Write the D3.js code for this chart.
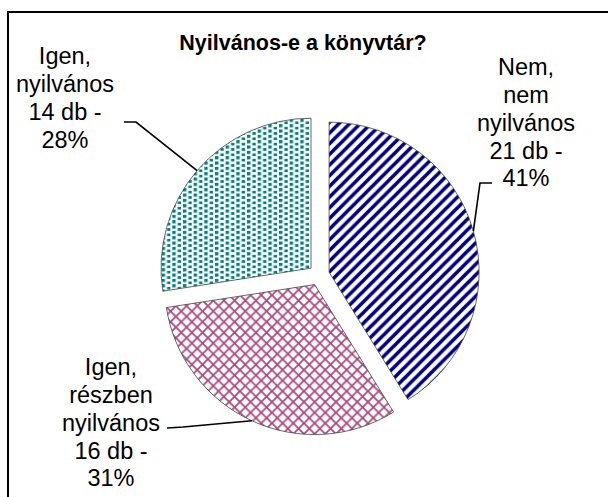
<!DOCTYPE html>
<html>
<head>
<meta charset="utf-8">
<script src="https://cdn.jsdelivr.net/npm/d3@7"></script>
<style>
  body { margin: 0; background: #fff; }
  text { font-family: "Liberation Sans", Arial, sans-serif; fill: #000; }
</style>
</head>
<body>
<div id="chart"></div>
<script>
(function(){
// data
const categories = ['Nem, nem nyilvános', 'Igen, részben nyilvános', 'Igen, nyilvános']
const counts = [21, 16, 14]
const percents = [41, 31, 28]
const title = 'Nyilvános-e a könyvtár?'

const width = 608, height = 497
const cx = 319, cy = 275, radius = 150, explode = 10.5

// label boxes: center x, first line y, leader start / elbow
const labelPos = [
  { x: 526, y: 67, start: [492, 183], elbow: [480, 183] },
  { x: 111, y: 367, start: [167, 428], elbow: [183, 427] },
  { x: 65, y: 56, start: [124, 122], elbow: [136, 122] }
]
const lineH = 27.8

let svg = d3.select('#chart')
  .append('svg')
  .attr('width', width)
  .attr('height', height)

// patterns
const defs = svg.append('defs')
const w = 10.67

let p0 = defs.append('pattern').attr('id', 'pat0')
  .attr('patternUnits', 'userSpaceOnUse').attr('width', w).attr('height', w)
p0.append('rect').attr('width', w).attr('height', w).attr('fill', '#fff')
p0.append('path')
  .attr('d', `M0,${w}L${w},0M${-w/2},${w/2}L${w/2},${-w/2}M${w/2},${w*1.5}L${w*1.5},${w/2}`)
  .attr('stroke', '#000080').attr('stroke-width', 3.6)

let p1 = defs.append('pattern').attr('id', 'pat1')
  .attr('patternUnits', 'userSpaceOnUse').attr('width', w).attr('height', w)
p1.append('rect').attr('width', w).attr('height', w).attr('fill', '#fff')
p1.append('path')
  .attr('d', `M0,0L${w},${w}M0,${w}L${w},0`)
  .attr('stroke', '#a94a80').attr('stroke-width', 1.8)

let p2 = defs.append('pattern').attr('id', 'pat2')
  .attr('patternUnits', 'userSpaceOnUse').attr('width', w).attr('height', w / 2)
p2.append('rect').attr('width', w).attr('height', w / 2).attr('fill', '#fff')
p2.append('rect').attr('x', 0).attr('y', 0).attr('width', 3.4).attr('height', 3.2).attr('fill', '#008080')
p2.append('rect').attr('x', w / 2).attr('y', w / 4).attr('width', 3.4).attr('height', 3.2).attr('fill', '#008080')

// frame
svg.append('rect')
  .attr('x', 8).attr('y', 12)
  .attr('width', 640).attr('height', 520)
  .attr('fill', 'none')
  .attr('stroke', '#000')
  .attr('stroke-width', 2)

svg.append('text')
  .attr('x', 303).attr('y', 50)
  .attr('text-anchor', 'middle')
  .style('font-size', '21.5px')
  .style('font-weight', 'bold')
  .text(title)

var pie = d3.pie().sort(null).value(d => d)
var arcs = pie(counts)
var arc = d3.arc().innerRadius(0).outerRadius(radius)

arcs.forEach(function(a, i) {
  var mid = (a.startAngle + a.endAngle) / 2
  var ox = cx + explode * Math.sin(mid)
  var oy = cy - explode * Math.cos(mid)

  svg.append('path')
    .attr('d', arc(a))
    .attr('transform', 'translate(' + ox + ',' + oy + ')')
    .attr('fill', 'url(#pat' + i + ')')
    .attr('stroke', '#444')
    .attr('stroke-width', 0.8)

  // leader line
  var ex = ox + radius * Math.sin(mid)
  var ey = oy - radius * Math.cos(mid)
  var lp = labelPos[i]
  svg.append('path')
    .attr('d', d3.line()([lp.start, lp.elbow, [ex, ey]]))
    .attr('fill', 'none')
    .attr('stroke', '#000')
    .attr('stroke-width', 1.6)

  // label
  var lines = categories[i].split(' ').concat([counts[i] + ' db -', percents[i] + '%'])
  var t = svg.append('text')
    .attr('text-anchor', 'middle')
    .style('font-size', '23.5px')
  lines.forEach(function(l, j) {
    t.append('tspan')
      .attr('x', lp.x)
      .attr('y', lp.y + j * lineH)
      .attr('dy', '0.35em')
      .text(l)
  })
})

})()
</script>
</body>
</html>
